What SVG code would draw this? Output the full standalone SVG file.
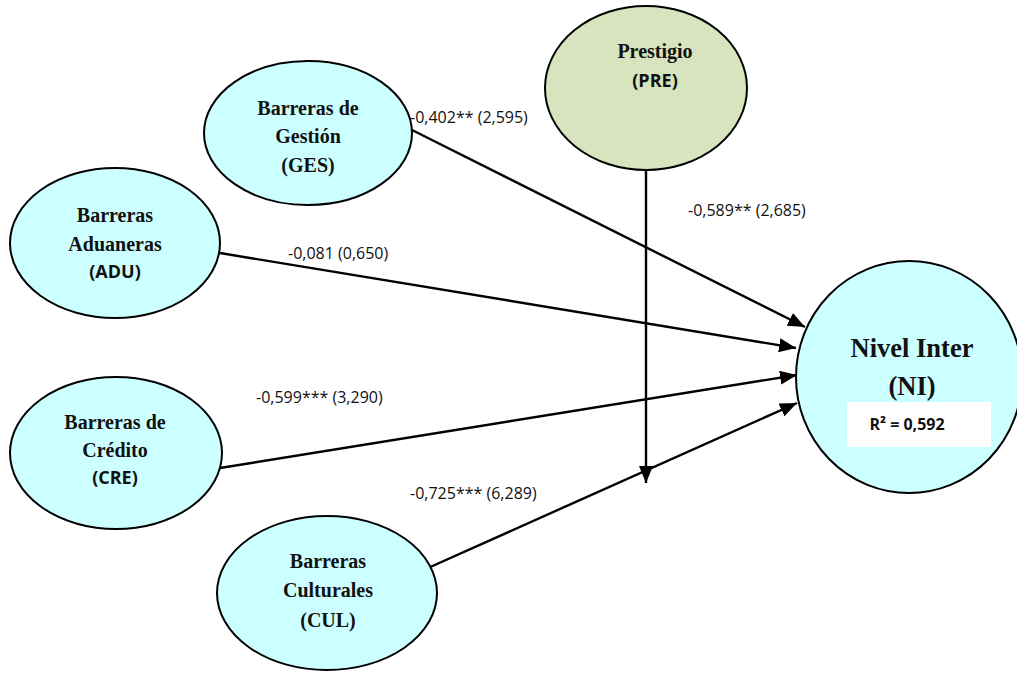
<svg xmlns="http://www.w3.org/2000/svg" width="1017" height="676" viewBox="0 0 1017 676">
  <style>
    .node { fill: #CCFFFF; stroke: #000; stroke-width: 2; }
    .node-pre { fill: #D7E4BD; stroke: #000; stroke-width: 2; }
    .serif { font-family: "Liberation Serif", "Times New Roman", serif; font-weight: bold; font-size: 20px; fill: #111; text-anchor: middle; }
    .sans { font-family: "Open Sans", "Liberation Sans", sans-serif; font-weight: bold; font-size: 18px; fill: #111; text-anchor: middle; }
    .big { font-family: "Liberation Serif", "Times New Roman", serif; font-weight: bold; font-size: 26.5px; fill: #111; text-anchor: middle; }
    .coef { font-family: "Open Sans", "Liberation Sans", sans-serif; font-size: 16px; fill: #111; }
    .edge { stroke: #000; stroke-width: 2.4; fill: none; marker-end: url(#arrow); }
  </style>
  <defs>
    <marker id="arrow" markerUnits="userSpaceOnUse" markerWidth="18" markerHeight="14" refX="17" refY="7" orient="auto">
      <path d="M0,0 L17,7 L0,14 Z" fill="#000"/>
    </marker>
  </defs>
  <rect width="1017" height="676" fill="#fff"/>

  <!-- path connectors -->
  <g id="connectors">
    <line class="edge" x1="412" y1="130" x2="805" y2="327"/>
    <line class="edge" x1="220" y1="253" x2="796" y2="348"/>
    <line class="edge" x1="220" y1="468" x2="797" y2="375"/>
    <line class="edge" x1="428" y1="568" x2="797" y2="403"/>
    <line class="edge" x1="646" y1="170" x2="646" y2="483"/>
  </g>

  <!-- path coefficients -->
  <g id="labels">
    <text class="coef" x="410" y="123">-0,402** (2,595)</text>
    <text class="coef" x="688" y="216">-0,589** (2,685)</text>
    <text class="coef" x="288" y="259">-0,081 (0,650)</text>
    <text class="coef" x="256" y="403">-0,599*** (3,290)</text>
    <text class="coef" x="410" y="499">-0,725*** (6,289)</text>
  </g>

  <g id="GES">
    <ellipse class="node" cx="308" cy="133" rx="104" ry="72"/>
    <text class="serif" x="308" y="115">Barreras de</text>
    <text class="serif" x="308" y="143">Gestión</text>
    <text class="serif" x="308" y="172">(GES)</text>
  </g>

  <g id="PRE">
    <ellipse class="node-pre" cx="646" cy="88" rx="101" ry="82"/>
    <text class="serif" x="655" y="58">Prestigio</text>
    <text class="sans" x="655" y="87">(PRE)</text>
  </g>

  <g id="ADU">
    <ellipse class="node" cx="115" cy="243" rx="105" ry="75"/>
    <text class="serif" x="115" y="222">Barreras</text>
    <text class="serif" x="115" y="251">Aduaneras</text>
    <text class="sans" x="115" y="278">(ADU)</text>
  </g>

  <g id="CRE">
    <ellipse class="node" cx="116" cy="453" rx="106" ry="76"/>
    <text class="serif" x="115" y="429">Barreras de</text>
    <text class="serif" x="115" y="457">Crédito</text>
    <text class="sans" x="115" y="484">(CRE)</text>
  </g>

  <g id="CUL">
    <ellipse class="node" cx="327" cy="593" rx="110" ry="77"/>
    <text class="serif" x="328" y="568">Barreras</text>
    <text class="serif" x="328" y="597">Culturales</text>
    <text class="serif" x="328" y="627">(CUL)</text>
  </g>

  <g id="NI">
    <ellipse class="node" cx="909" cy="377" rx="113" ry="116"/>
    <text class="big" x="912" y="357">Nivel Inter</text>
    <text class="big" x="912" y="395">(NI)</text>
    <rect x="847" y="402" width="144" height="45" fill="#fff"/>
    <text class="sans" x="907" y="430" style="font-size:16px">R² = 0,592</text>
  </g>
</svg>
